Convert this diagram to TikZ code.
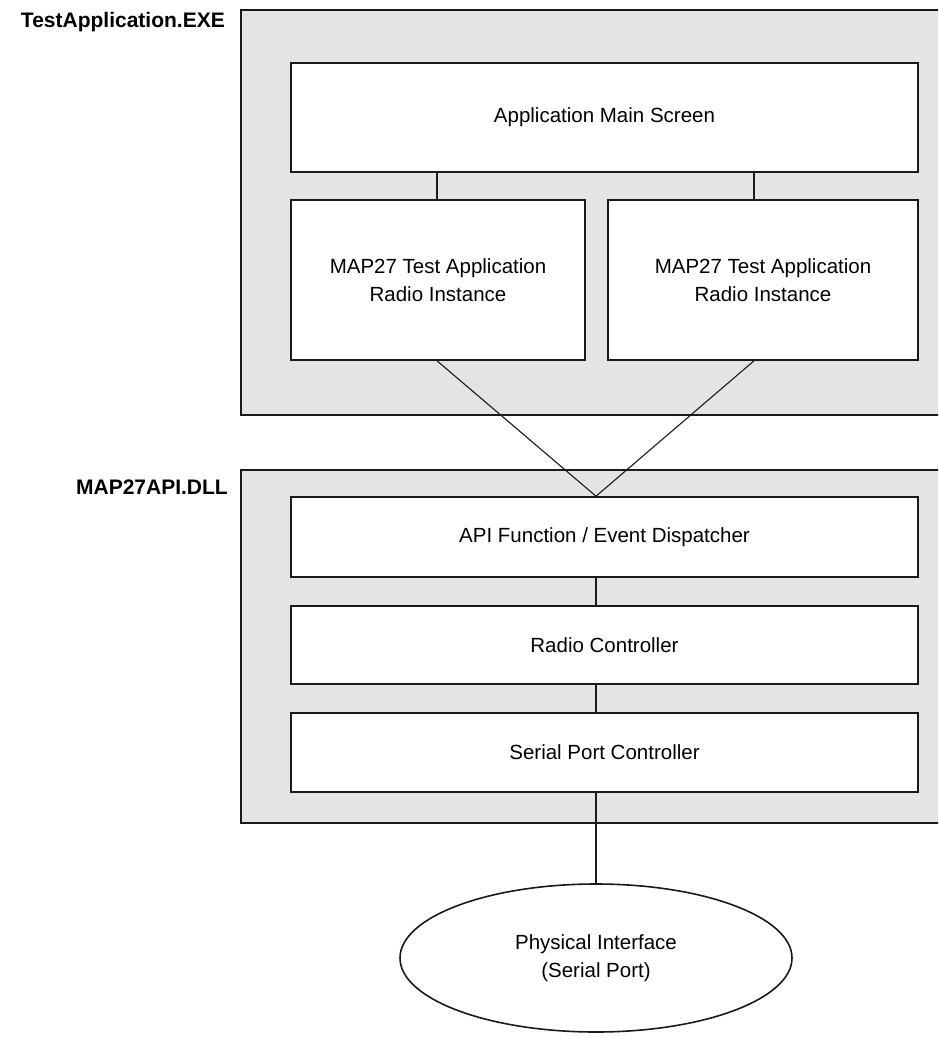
\documentclass[tikz,border=0pt]{standalone}
\usepackage{fontspec}
\setmainfont{Liberation Sans}
\usetikzlibrary{shapes.geometric}
\definecolor{panelgray}{HTML}{E4E4E4}
\definecolor{linegray}{HTML}{1A1A1A}
\tikzset{
  panel/.style={draw=linegray, fill=panelgray, line width=1.6pt, inner sep=0pt},
  box/.style={draw=linegray, fill=white, line width=1.6pt, inner sep=0pt, align=center,
    font=\fontsize{20.5}{28}\selectfont},
  link/.style={draw=linegray, line width=1.6pt},
  thinlink/.style={draw=linegray, line width=1.1pt},
  lbl/.style={font=\bfseries\fontsize{21}{25}\selectfont, inner sep=0pt}
}
\begin{document}
\begin{tikzpicture}[x=1pt,y=-1pt]
\useasboundingbox (0,0) rectangle (938,1038);
\clip (0,0) rectangle (938,1038);
\fill[white] (0,0) rectangle (938,1038);
% outer panels
\node[panel, minimum width=720pt, minimum height=405pt] (exe) at (601,212.5) {};
\node[panel, minimum width=720pt, minimum height=353pt] (dll) at (601,646.5) {};
% labels
\node[lbl, anchor=base east] (exelbl) at (225,28) {TestApplication.EXE};
\node[lbl, anchor=base east] (dlllbl) at (228,494) {MAP27API.DLL};
% helper x positions
\coordinate (lx) at (437,0);
\coordinate (rx) at (754,0);
\coordinate (cx) at (596,0);
% application boxes
\node[box, minimum width=627pt, minimum height=109pt] (main) at (604.5,117.5) {Application Main Screen};
\node[box, minimum width=294pt, minimum height=160pt] (left) at (438,280) {MAP27 Test Application\\Radio Instance};
\node[box, minimum width=310pt, minimum height=160pt] (right) at (763,280) {MAP27 Test Application\\Radio Instance};
% dll boxes
\node[box, minimum width=627pt, minimum height=80pt] (api) at (604.5,537) {API Function / Event Dispatcher};
\node[box, minimum width=627pt, minimum height=78pt] (radio) at (604.5,645) {Radio Controller};
\node[box, minimum width=627pt, minimum height=79pt] (serial) at (604.5,752.5) {Serial Port Controller};
% physical interface
\node[draw=linegray, line width=1.6pt, ellipse, fill=white, inner sep=0pt, minimum width=392pt, minimum height=148pt,
  align=center, font=\fontsize{20.5}{28}\selectfont] (phys) at (596,958) {Physical Interface\\(Serial Port)};
% connectors
\draw[link] (main.south -| lx) -- (left.north -| lx);
\draw[link] (main.south -| rx) -- (right.north -| rx);
\draw[thinlink] (left.south -| lx) -- (api.north -| cx);
\draw[thinlink] (right.south -| rx) -- (api.north -| cx);
\draw[link] (api.south -| cx) -- (radio.north -| cx);
\draw[link] (radio.south -| cx) -- (serial.north -| cx);
\draw[link] (serial.south -| cx) -- (phys.north);
\end{tikzpicture}
\end{document}
